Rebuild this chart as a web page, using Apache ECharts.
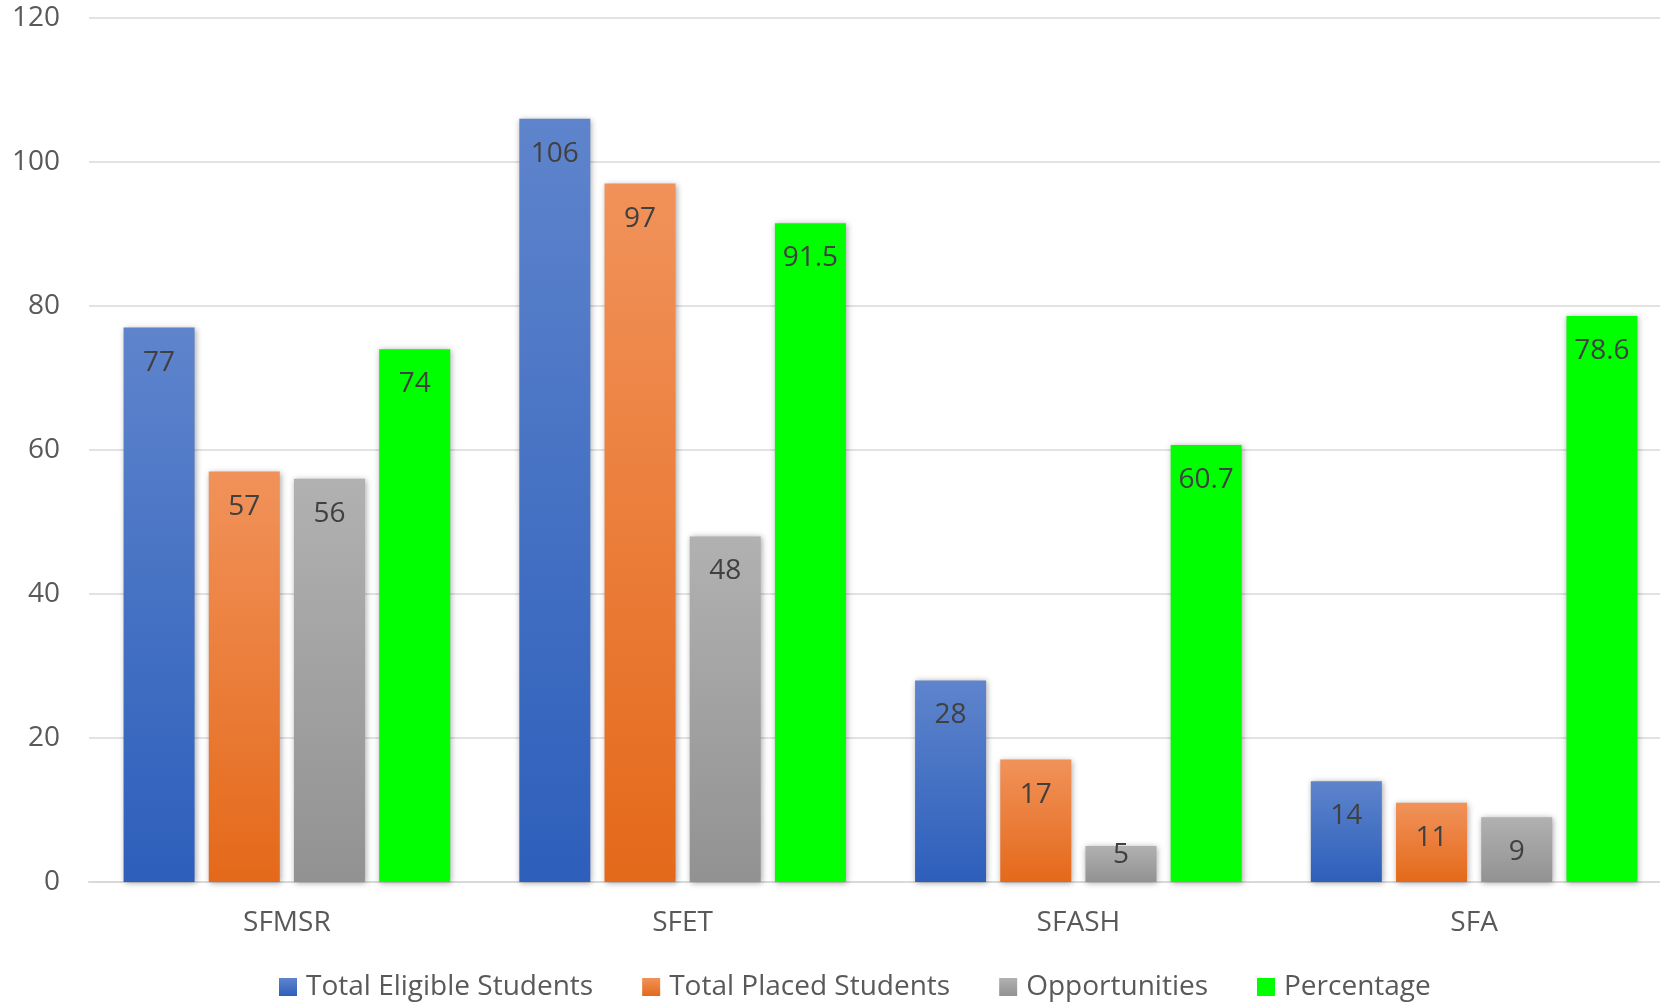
<!DOCTYPE html>
<html>
<head>
<meta charset="utf-8">
<script src="https://cdn.jsdelivr.net/npm/echarts@6/dist/echarts.min.js"></script>
<style>
html,body{margin:0;padding:0;background:#fff;overflow:hidden;width:1660px;height:1002px;}
#chart{width:1700px;height:1002px;}
</style>
</head>
<body>
<div id="chart"></div>
<script>
const categories = ['SFMSR', 'SFET', 'SFASH', 'SFA'];
const seriesNames = ['Total Eligible Students', 'Total Placed Students', 'Opportunities', 'Percentage'];
const totalEligible = [77, 106, 28, 14];
const totalPlaced = [57, 97, 17, 11];
const opportunities = [56, 48, 5, 9];
const percentage = [74, 91.5, 60.7, 78.6];
const yTicks = [0, 20, 40, 60, 80, 100, 120];

const FONT = 'Open Sans';
function grad(top, bottom) {
  return new echarts.graphic.LinearGradient(0, 0, 0, 1, [
    { offset: 0, color: top }, { offset: 1, color: bottom }
  ]);
}
const colors = [
  grad('#5e84cc', '#2d5fbb'),
  grad('#f1925a', '#e4691a'),
  grad('#b1b1b1', '#929292'),
  '#00ff00'
];
const allData = [totalEligible, totalPlaced, opportunities, percentage];

const chart = echarts.init(document.getElementById('chart'), null, { renderer: 'canvas' });
chart.setOption({
  animation: false,
  backgroundColor: '#ffffff',
  textStyle: { fontFamily: FONT },
  grid: { left: 89, top: 18, width: 1583, height: 864, containLabel: false },
  legend: {
    left: 279, top: 973, padding: 0,
    itemWidth: 18, itemHeight: 18, itemGap: 49,
    icon: 'rect',
    textStyle: { fontFamily: FONT, fontSize: 28, color: '#595959', padding: [0, 0, 0, 4] },
    data: seriesNames
  },
  xAxis: {
    type: 'category',
    data: categories,
    axisLine: { show: true, lineStyle: { color: '#d9d9d9', width: 2 } },
    axisTick: { show: false },
    axisLabel: { fontFamily: FONT, fontSize: 28, color: '#595959', margin: 27 },
    splitLine: { show: false }
  },
  yAxis: {
    type: 'value',
    min: yTicks[0], max: yTicks[yTicks.length - 1], interval: 20,
    axisLine: { show: false },
    axisTick: { show: false },
    axisLabel: { fontFamily: FONT, fontSize: 28, color: '#595959', margin: 29 },
    splitLine: { lineStyle: { color: '#d9d9d9', width: 1.5 } }
  },
  series: seriesNames.map((name, i) => ({
    name: name,
    type: 'bar',
    barWidth: 71,
    barGap: '20%',
    itemStyle: {
      color: colors[i],
      shadowBlur: 6,
      shadowColor: 'rgba(0,0,0,0.35)',
      shadowOffsetX: 1,
      shadowOffsetY: 1
    },
    label: {
      show: true,
      position: 'insideTop',
      distance: 21,
      fontFamily: FONT,
      fontSize: 28,
      color: '#404040'
    },
    data: allData[i].map(v => v * 7.2 < 50
      ? { value: v, label: { distance: -5 } }
      : v)
  }))
});
</script>
</body>
</html>
